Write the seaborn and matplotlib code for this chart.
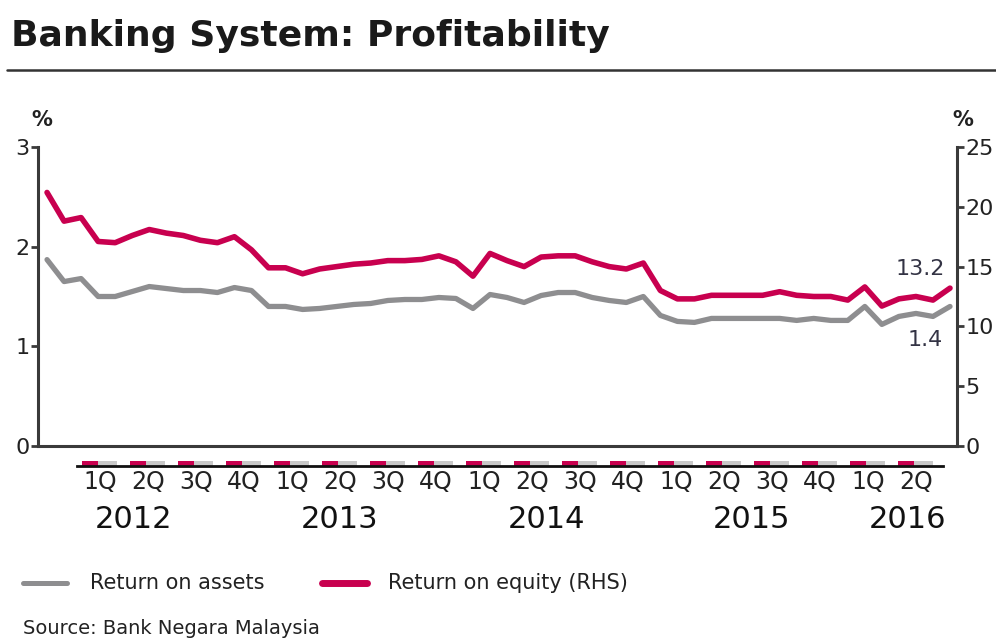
import numpy as np
import pandas as pd
import matplotlib
matplotlib.use("Agg")
import matplotlib.pyplot as plt
import matplotlib.transforms as mtransforms
import seaborn as sns

# monthly data, Jan 2012 - Jun 2016
months = pd.date_range("2012-01-01", periods=54, freq="MS")
roa = [1.87, 1.65, 1.68, 1.50, 1.50, 1.55, 1.60, 1.58, 1.56, 1.56, 1.54, 1.59,
       1.56, 1.40, 1.40, 1.37, 1.38, 1.40, 1.42, 1.43, 1.46, 1.47, 1.47, 1.49,
       1.48, 1.38, 1.52, 1.49, 1.44, 1.51, 1.54, 1.54, 1.49, 1.46, 1.44, 1.50,
       1.31, 1.25, 1.24, 1.28, 1.28, 1.28, 1.28, 1.28, 1.26, 1.28, 1.26, 1.26,
       1.40, 1.22, 1.30, 1.33, 1.30, 1.40]
roe = [21.2, 18.8, 19.1, 17.1, 17.0, 17.6, 18.1, 17.8, 17.6, 17.2, 17.0, 17.5,
       16.4, 14.9, 14.9, 14.4, 14.8, 15.0, 15.2, 15.3, 15.5, 15.5, 15.6, 15.9,
       15.4, 14.2, 16.1, 15.5, 15.0, 15.8, 15.9, 15.9, 15.4, 15.0, 14.8, 15.3,
       13.0, 12.3, 12.3, 12.6, 12.6, 12.6, 12.6, 12.9, 12.6, 12.5, 12.5, 12.2,
       13.3, 11.7, 12.3, 12.5, 12.2, 13.2]

quarters = ["1Q", "2Q", "3Q", "4Q"] * 4 + ["1Q", "2Q"]
years = ["2012", "2013", "2014", "2015", "2016"]
year_pos = [1.17, 5.46, 9.77, 14.06, 17.3]  # position on the quarter strip

left_ticks = [0, 1, 2, 3]
right_ticks = [0, 5, 10, 15, 20, 25]

RED = "#C8004F"
GREY = "#8E8E90"
DARK = "#3a3a3a"
TXT = "#222222"

df = pd.DataFrame({"i": np.arange(len(months)), "roa": roa, "roe": roe})

sns.set_style("white")
plt.rcParams["font.family"] = ["DejaVu Sans"]

fig = plt.figure(figsize=(9.96, 6.4), dpi=100)

# title and rule
fig.text(11 / 996, 1 - 36 / 640, "Banking System: Profitability", fontsize=26,
         fontweight="bold", color="#1a1a1a", va="center", ha="left")
fig.add_artist(plt.Line2D([7 / 996, 1.0], [1 - 70 / 640] * 2, color="#333333", lw=1.8))

# main axes
ax = fig.add_axes([38 / 996, 194 / 640, 919 / 996, 299 / 640])
sns.lineplot(data=df, x="i", y="roa", ax=ax, color=GREY, lw=3.8, legend=False)
ax.set_ylim(0, 3)
ax.set_xlim(-0.53, 53.41)
ax.set_yticks(left_ticks)
ax.set_xticks([])
ax.set_xlabel("")
ax.set_ylabel("")

ax2 = ax.twinx()
sns.lineplot(data=df, x="i", y="roe", ax=ax2, color=RED, lw=4.0, legend=False)
ax2.set_ylim(0, 25)
ax2.set_yticks(right_ticks)
ax2.set_ylabel("")

for a in (ax, ax2):
    for s in a.spines.values():
        s.set_color(DARK)
        s.set_linewidth(2.2)
    a.spines["top"].set_visible(False)
    a.tick_params(axis="y", length=5, width=2, color=DARK, labelsize=16,
                  labelcolor=TXT, pad=1)
ax.spines["right"].set_visible(False)
ax2.spines["left"].set_visible(False)
ax2.spines["bottom"].set_visible(False)

ax.annotate("%", xy=(0, 1), xycoords="axes fraction", xytext=(-4.5, 19.5),
            textcoords="offset points", fontsize=15, fontweight="bold", color=TXT,
            ha="left", va="center")
ax2.annotate("%", xy=(1, 1), xycoords="axes fraction", xytext=(-3, 19.5),
             textcoords="offset points", fontsize=15, fontweight="bold", color=TXT,
             ha="left", va="center")

# end labels
ax2.annotate(f"{roe[-1]:.1f}", xy=(df["i"].iloc[-1], roe[-1]), xytext=(-3.5, 13.5),
             textcoords="offset points", fontsize=16, color="#333344", ha="right", va="center")
ax.annotate(f"{roa[-1]:.1f}", xy=(df["i"].iloc[-1], roa[-1]), xytext=(-5, -24),
            textcoords="offset points", fontsize=16, color="#333344", ha="right", va="center")

# quarter strip below the chart
axq = fig.add_axes([77 / 996, 174 / 640, 866 / 996, 5 / 640])
qx = np.arange(len(quarters))
axq.bar(qx + 0.27, [1] * len(quarters), width=0.33, color=RED, linewidth=0)
axq.bar(qx + 0.635, [1] * len(quarters), width=0.40, color="#C8C8C8", linewidth=0)
axq.set_xlim(0, len(quarters) + 0.04)
axq.set_ylim(0, 1)
axq.set_yticks([])
axq.set_xticks(qx + 0.48)
axq.set_xticklabels(quarters, fontsize=17, color=TXT)
axq.tick_params(axis="x", length=0, pad=3)
for k, s in axq.spines.items():
    s.set_visible(k == "bottom")
axq.spines["bottom"].set_color("#111111")
axq.spines["bottom"].set_linewidth(2)
ytrans = mtransforms.blended_transform_factory(axq.transData, fig.transFigure)
for y, p in zip(years, year_pos):
    axq.text(p, 1 - 520 / 640, y, fontsize=22, color="#111111", ha="center",
             va="center", transform=ytrans)

# legend
fig.add_artist(plt.Line2D([23 / 996, 67 / 996], [1 - 583 / 640] * 2, color=GREY, lw=3.6))
fig.text(90 / 996, 1 - 583 / 640, "Return on assets", fontsize=15, color=TXT, va="center")
fig.add_artist(plt.Line2D([322 / 996, 367 / 996], [1 - 583 / 640] * 2, color=RED, lw=5))
fig.text(388 / 996, 1 - 583 / 640, "Return on equity (RHS)", fontsize=15, color=TXT, va="center")
fig.text(23 / 996, 1 - 629 / 640, "Source: Bank Negara Malaysia", fontsize=14,
         color=TXT, va="center")

fig.savefig("out.png", dpi=100)
